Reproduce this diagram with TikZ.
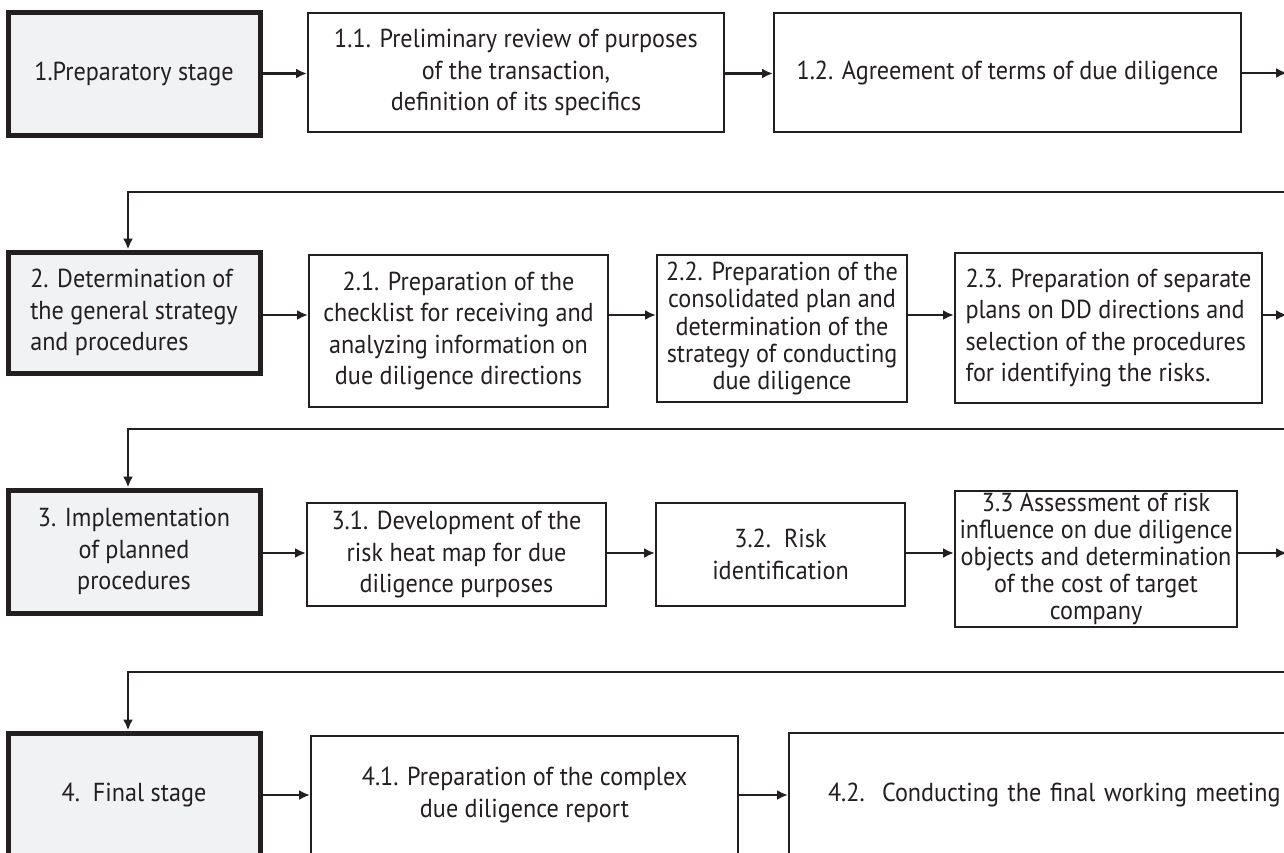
\documentclass[tikz,border=0pt]{standalone}
\usepackage{fontspec}
\setmainfont{PT Sans}[FakeStretch=0.93]
\usetikzlibrary{arrows.meta}
\definecolor{ink}{HTML}{231F20}
\definecolor{stagefill}{HTML}{F1F2F4}
\tikzset{
  stage/.style={draw=ink, line width=2.5pt, fill=stagefill, inner sep=0pt, align=center},
  task/.style={draw=ink, line width=1pt, fill=white, inner sep=0pt, align=center},
  tight/.style={font=\fontsize{13}{13.6}\selectfont},
}
\begin{document}
\begin{tikzpicture}[x=0.5pt, y=-0.5pt, color=ink, line width=1.25pt,
    font=\fontsize{13}{15.75}\selectfont, >={Latex[length=5.5pt,width=5pt]}]
    \useasboundingbox (0,0) rectangle (1284,852);
    \clip (0,0) rectangle (1284,852);

    % stage 1
    \node[stage, minimum width=126pt, minimum height=61.5pt] (s1) at (134, 73.5) {1.Preparatory stage};
    \node[task, minimum width=208pt, minimum height=59.5pt] (a11) at (516, 72.5) {1.1. Preliminary review of purposes\\of the transaction,\\definition of its specifics};
    \node[task, minimum width=233.5pt, minimum height=59.5pt] (a12) at (1007.5, 72.5) {1.2. Agreement of terms of due diligence};

    % stage 2
    \node[stage, align=left, minimum width=126pt, minimum height=60.5pt] (s2) at (134, 312.5) {2. Determination of\\the general strategy\\and procedures};
    \node[task, minimum width=149.5pt, minimum height=76pt] (a21) at (458.5, 331) {2.1. Preparation of the\\checklist for receiving and\\analyzing information on\\due diligence directions};
    \node[task, tight, minimum width=125pt, minimum height=73.5pt] (a22) at (782, 328.5) {2.2. Preparation of the\\consolidated plan and\\determination of the\\strategy of conducting\\due diligence};
    \node[task, align=left, minimum width=153.5pt, minimum height=75pt] (a23) at (1108.5, 328) {2.3. Preparation of separate\\plans on DD directions and\\selection of the procedures\\for identifying the risks.};

    % stage 3
    \node[stage, minimum width=126pt, minimum height=61.5pt] (s3) at (134, 551.5) {3. Implementation\\of planned\\procedures};
    \node[task, minimum width=149.5pt, minimum height=51.5pt] (a31) at (456.5, 554.5) {3.1. Development of the\\risk heat map for due\\diligence purposes};
    \node[task, minimum width=124.5pt, minimum height=51.5pt] (a32) at (780.5, 554.5) {3.2.~~Risk\\identification};
    \node[task, tight, minimum width=141pt, minimum height=68pt] (a33) at (1096, 559) {3.3 Assessment of risk\\influence on due diligence\\objects and determination\\of the cost of target\\company};

    % stage 4
    \node[stage, minimum width=126pt, minimum height=62pt] (s4) at (134, 795) {4.~~Final stage};
    \node[task, minimum width=213.5pt, minimum height=59pt] (a41) at (524.5, 795) {4.1. Preparation of the complex\\due diligence report};
    \node[task, align=left, text width=241pt, inner xsep=19.5pt, minimum height=62pt] (a42) at (1069, 795) {4.2.~~Conducting the final working meeting};

    % off-page ends
    \coordinate (e1) at (1287, 73);
    \coordinate (e2) at (1287, 315);
    \coordinate (e3) at (1287, 553);
    \coordinate (r1) at (1290, 192);
    \coordinate (r2) at (1290, 429);
    \coordinate (r3) at (1290, 672);
    \coordinate (k1) at (128, 192);
    \coordinate (k2) at (128, 429);
    \coordinate (k3) at (128, 672);

    \draw[->] (s1.east) -- (s1.east -| a11.west);
    \draw[->] (a11.east |- s1.east) -- (s1.east -| a12.west);
    \draw[->] (a12.east |- e1) -- (e1);
    \draw[->] (r1) -- (k1) -- (k1 |- s2.north);

    \draw[->] (s2.east |- e2) -- (e2 -| a21.west);
    \draw[->] (a21.east |- e2) -- (e2 -| a22.west);
    \draw[->] (a22.east |- e2) -- (e2 -| a23.west);
    \draw[->] (a23.east |- e2) -- (e2);
    \draw[->] (r2) -- (k2) -- (k2 |- s3.north);

    \draw[->] (s3.east |- e3) -- (e3 -| a31.west);
    \draw[->] (a31.east |- e3) -- (e3 -| a32.west);
    \draw[->] (a32.east |- e3) -- (e3 -| a33.west);
    \draw[->] (a33.east |- e3) -- (e3);
    \draw[->] (r3) -- (k3) -- (k3 |- s4.north);

    \draw[->] (s4.east) -- (s4.east -| a41.west);
    \draw[->] (a41.east) -- (a41.east -| a42.west);
  \end{tikzpicture}
\end{document}
